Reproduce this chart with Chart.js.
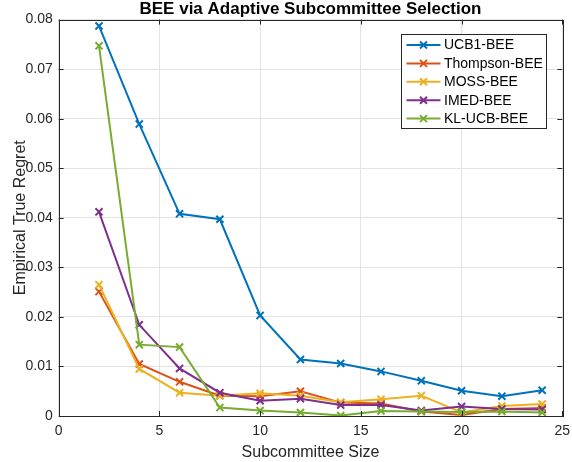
<!DOCTYPE html>
<html>
<head>
<meta charset="utf-8">
<script src="https://cdn.jsdelivr.net/npm/chart.js@4"></script>
<style>
  html, body { margin: 0; padding: 0; background: #fff; }
  #chart { display: block; }
</style>
</head>
<body>
<canvas id="chart" width="572" height="462"></canvas>
<script>
const sizes = [2, 4, 6, 8, 10, 12, 14, 16, 18, 20, 22, 24];
const ucb1 = [0.0787, 0.0589, 0.0408, 0.0397, 0.0203, 0.0114, 0.0106, 0.0090, 0.0071, 0.0051, 0.0040, 0.0052];
const thompson = [0.0251, 0.0105, 0.0069, 0.0041, 0.0040, 0.0050, 0.0027, 0.0025, 0.0009, 0.0002, 0.0014, 0.0016];
const moss = [0.0265, 0.0095, 0.0047, 0.0041, 0.0046, 0.0041, 0.0028, 0.0034, 0.0041, 0.0007, 0.0020, 0.0024];
const imed = [0.0412, 0.0184, 0.0096, 0.0047, 0.0031, 0.0035, 0.0022, 0.0022, 0.0011, 0.0019, 0.0014, 0.0013];
const klucb = [0.0747, 0.0144, 0.0139, 0.0017, 0.0011, 0.0007, 0.0001, 0.0010, 0.0009, 0.0008, 0.0009, 0.0007];

const seriesNames = ["UCB1-BEE", "Thompson-BEE", "MOSS-BEE", "IMED-BEE", "KL-UCB-BEE"];
const seriesValues = [ucb1, thompson, moss, imed, klucb];
const seriesColors = ["#0072BD", "#D95319", "#EDB120", "#7E2F8E", "#77AC30"];

const FONT = "'Liberation Sans', Arial, Helvetica, sans-serif";
const AXIS = "#262626";

const datasets = seriesNames.map((name, i) => ({
  label: name,
  data: sizes.map((x, j) => ({ x: x, y: seriesValues[i][j] })),
  borderColor: seriesColors[i],
  backgroundColor: seriesColors[i],
  borderWidth: 2,
  pointStyle: "crossRot",
  pointRadius: 5,
  pointBorderWidth: 2,
  pointHoverRadius: 5,
  tension: 0,
  order: seriesNames.length - i,
}));

// box round the axes, inward tick marks, and a MATLAB-like legend
const matlabBox = {
  id: "matlabBox",
  afterDatasetsDraw(chart) {
    const ctx = chart.ctx;
    const a = chart.chartArea;
    const xs = chart.scales.x, ys = chart.scales.y;
    ctx.save();
    ctx.strokeStyle = AXIS;
    ctx.lineWidth = 1;
    ctx.beginPath();
    xs.ticks.forEach(t => {
      const px = Math.round(xs.getPixelForValue(t.value)) + 0.5;
      ctx.moveTo(px, a.bottom); ctx.lineTo(px, a.bottom - 5);
      ctx.moveTo(px, a.top); ctx.lineTo(px, a.top + 5);
    });
    ys.ticks.forEach(t => {
      const py = Math.round(ys.getPixelForValue(t.value)) + 0.5;
      ctx.moveTo(a.left, py); ctx.lineTo(a.left + 5, py);
      ctx.moveTo(a.right, py); ctx.lineTo(a.right - 5, py);
    });
    ctx.stroke();
    ctx.strokeRect(Math.round(a.left) + 0.5, Math.round(a.top) + 0.5,
      Math.round(a.right - a.left), Math.round(a.bottom - a.top));

    // legend
    const bw = 145, bh = 94;
    const bx = Math.round(a.right - 16.6 - bw) + 0.5;
    const by = Math.round(a.top + 14.6) + 0.5;
    ctx.fillStyle = "#fff";
    ctx.fillRect(bx, by, bw, bh);
    ctx.strokeStyle = AXIS;
    ctx.strokeRect(bx, by, bw, bh);
    ctx.font = "14px " + FONT;
    ctx.textBaseline = "middle";
    ctx.textAlign = "left";
    chart.data.datasets.forEach((ds, i) => {
      const cy = by + 10.5 + i * 18.4;
      ctx.strokeStyle = ds.borderColor;
      ctx.lineWidth = 2;
      ctx.beginPath();
      ctx.moveTo(bx + 5, cy); ctx.lineTo(bx + 39, cy);
      ctx.stroke();
      const cx = bx + 22, r = 3.5;
      ctx.beginPath();
      ctx.moveTo(cx - r, cy - r); ctx.lineTo(cx + r, cy + r);
      ctx.moveTo(cx - r, cy + r); ctx.lineTo(cx + r, cy - r);
      ctx.stroke();
      ctx.fillStyle = "#000";
      ctx.fillText(ds.label, bx + 42.5, cy + 0.5);
    });
    ctx.restore();
  },
};

new Chart(document.getElementById("chart"), {
  type: "line",
  data: { datasets: datasets },
  options: {
    responsive: false,
    animation: false,
    devicePixelRatio: 1,
    layout: { padding: { left: 0, right: 9.7, top: 0, bottom: 0 } },
    plugins: {
      legend: { display: false },
      tooltip: { enabled: false },
      title: {
        display: true,
        fullSize: false,
        text: "BEE via Adaptive Subcommittee Selection",
        color: "#000",
        font: { family: FONT, size: 17, weight: "bold", lineHeight: 1.15 },
        padding: { top: 0, bottom: 0 },
      },
    },
    scales: {
      x: {
        type: "linear",
        min: 0,
        max: 25,
        ticks: {
          stepSize: 5,
          color: AXIS,
          padding: 7,
          font: { family: FONT, size: 14 },
        },
        grid: { color: "#e3e3e3", drawTicks: false },
        border: { display: false },
        title: {
          display: true,
          text: "Subcommittee Size",
          color: AXIS,
          font: { family: FONT, size: 16 },
          padding: { top: 0, bottom: 0 },
        },
        afterFit(scale) {
          scale.height = 46;
          scale.paddingLeft = 0;
          scale.paddingRight = 0;
        },
      },
      y: {
        type: "linear",
        min: 0,
        max: 0.08,
        ticks: {
          stepSize: 0.01,
          color: AXIS,
          padding: 6,
          font: { family: FONT, size: 14 },
          callback: v => (v === 0 ? "0" : v.toFixed(2)),
        },
        grid: { color: "#e3e3e3", drawTicks: false },
        border: { display: false },
        title: {
          display: true,
          text: "Empirical True Regret",
          color: AXIS,
          font: { family: FONT, size: 16 },
          padding: { top: 10.5, bottom: 0 },
        },
        afterFit(scale) {
          scale.width = 58.7;
          scale.paddingTop = 0;
          scale.paddingBottom = 0;
        },
      },
    },
  },
  plugins: [matlabBox],
});
</script>
</body>
</html>
